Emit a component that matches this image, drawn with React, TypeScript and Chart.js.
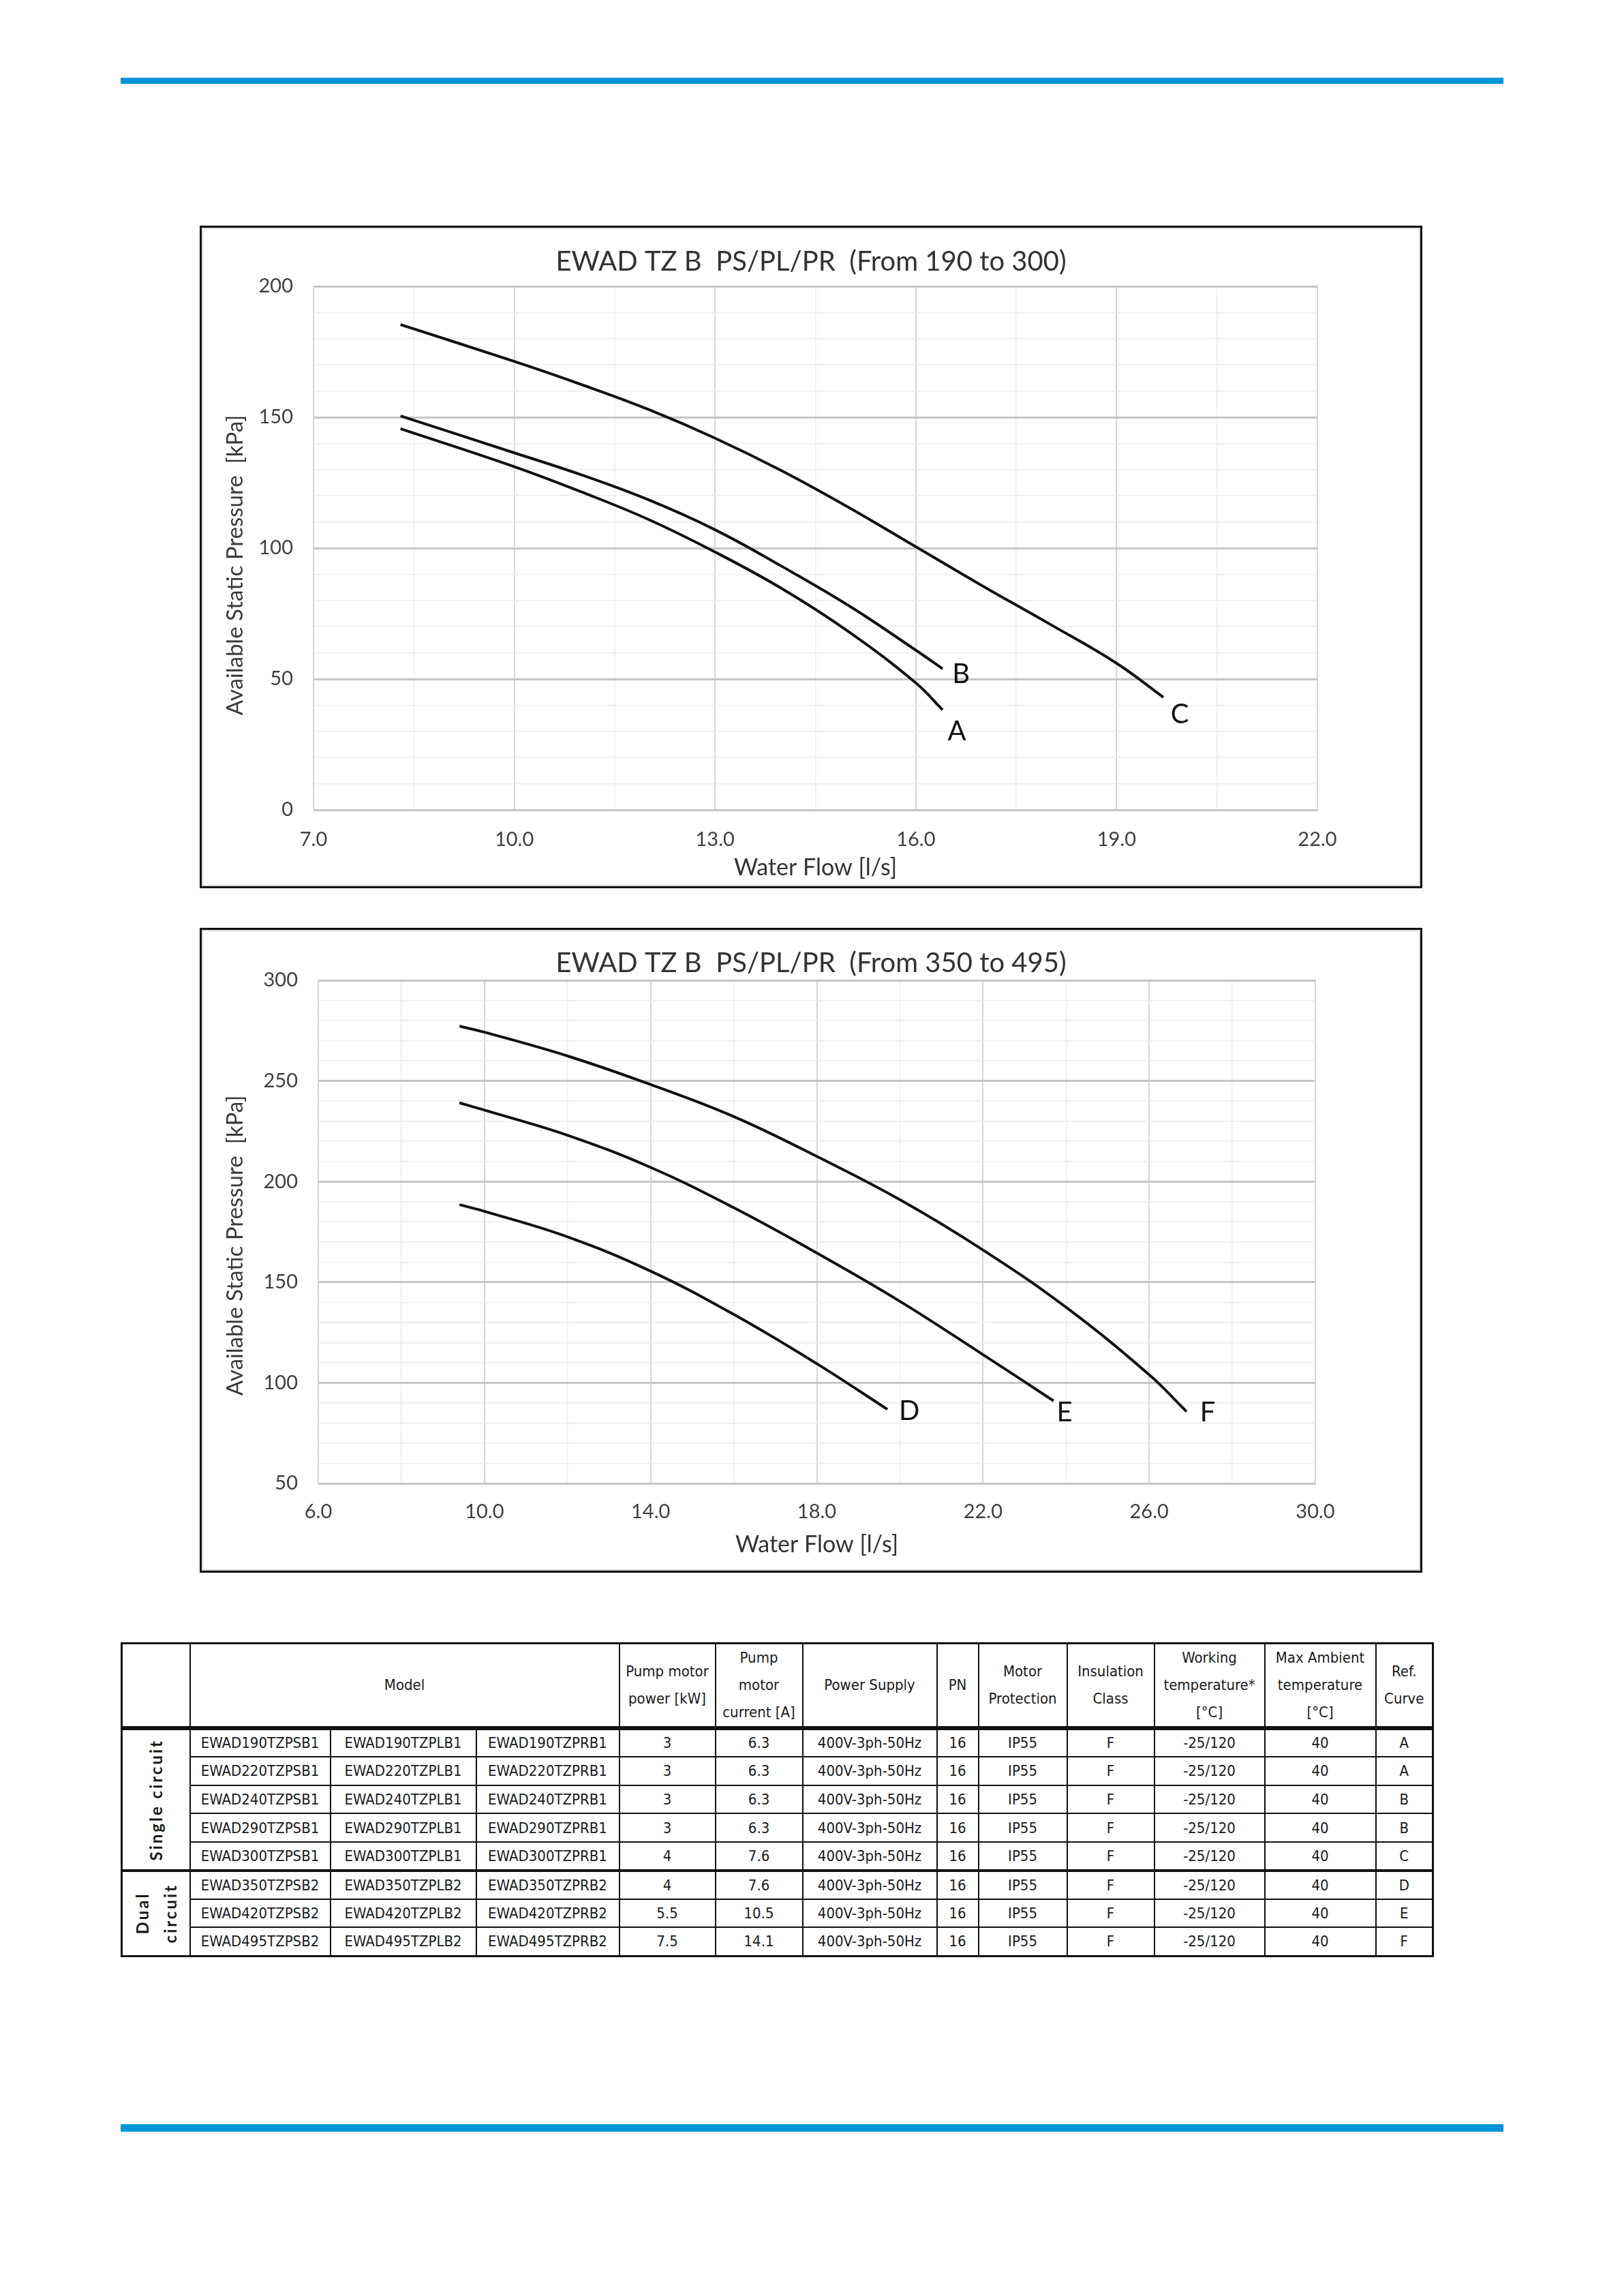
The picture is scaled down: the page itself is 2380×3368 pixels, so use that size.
import React, { useEffect, useRef } from 'react';
import { Chart, registerables } from 'chart.js';

Chart.register(...registerables);
Chart.defaults.font.family = "Lato, 'Liberation Sans', sans-serif";

// ---------- Chart 1 data (EWAD 190..300) ----------
const TITLE_1 = 'EWAD TZ B  PS/PL/PR  (From 190 to 300)';
const flowA = [8.3, 10.0, 11.0, 12.0, 13.0, 14.0, 15.0, 16.0, 16.4];
const pressA = [145.6, 131.1, 121.5, 111.0, 98.5, 84.5, 68.0, 48.5, 38.2];
const flowB = [8.3, 10.0, 11.0, 12.0, 13.0, 14.0, 15.0, 16.0, 16.4];
const pressB = [150.5, 136.4, 128.0, 118.5, 107.0, 93.0, 78.0, 61.0, 53.9];
const flowC = [8.3, 10.0, 11.0, 12.0, 13.0, 14.0, 15.0, 16.0, 17.0, 18.0, 19.0, 19.7];
const pressC = [185.4, 171.3, 162.5, 153.0, 142.0, 129.5, 115.5, 100.5, 85.5, 71.0, 56.0, 43.0];

// ---------- Chart 2 data (EWAD 350..495) ----------
const TITLE_2 = 'EWAD TZ B  PS/PL/PR  (From 350 to 495)';
const flowD = [9.4, 10.0, 12.0, 14.0, 16.0, 18.0, 19.7];
const pressD = [188.5, 185.2, 172.5, 155.5, 134.0, 109.5, 86.8];
const flowE = [9.4, 10.0, 12.0, 14.0, 16.0, 18.0, 20.0, 22.0, 23.7];
const pressE = [239.1, 235.5, 223.0, 207.0, 187.0, 164.5, 140.5, 114.0, 91.0];
const flowF = [9.4, 10.0, 12.0, 14.0, 16.0, 18.0, 20.0, 22.0, 24.0, 26.0, 26.9];
const pressF = [277.2, 274.2, 262.4, 248.2, 232.3, 212.5, 191.0, 166.0, 137.5, 104.0, 85.7];

const X_TITLE = 'Water Flow [l/s]';
const Y_TITLE = 'Available Static Pressure  [kPa]';

// ---------- Table data ----------
const modelsPS = ['EWAD190TZPSB1', 'EWAD220TZPSB1', 'EWAD240TZPSB1', 'EWAD290TZPSB1', 'EWAD300TZPSB1', 'EWAD350TZPSB2', 'EWAD420TZPSB2', 'EWAD495TZPSB2'];
const modelsPL = ['EWAD190TZPLB1', 'EWAD220TZPLB1', 'EWAD240TZPLB1', 'EWAD290TZPLB1', 'EWAD300TZPLB1', 'EWAD350TZPLB2', 'EWAD420TZPLB2', 'EWAD495TZPLB2'];
const modelsPR = ['EWAD190TZPRB1', 'EWAD220TZPRB1', 'EWAD240TZPRB1', 'EWAD290TZPRB1', 'EWAD300TZPRB1', 'EWAD350TZPRB2', 'EWAD420TZPRB2', 'EWAD495TZPRB2'];
const pumpPower = ['3', '3', '3', '3', '4', '4', '5.5', '7.5'];
const pumpCurrent = ['6.3', '6.3', '6.3', '6.3', '7.6', '7.6', '10.5', '14.1'];
const powerSupply = '400V-3ph-50Hz';
const pnValue = '16';
const motorProtection = 'IP55';
const insulationClass = 'F';
const workingTemp = '-25/120';
const maxAmbient = '40';
const refCurve = ['A', 'A', 'B', 'B', 'C', 'D', 'E', 'F'];

type Series = { label: string; flow: number[]; press: number[]; off: [number, number] };
type Spec = {
  title: string;
  series: Series[];
  xMin: number; xMax: number; xStep: number; xMajor: number;
  yMin: number; yMax: number; yStep: number; yMajor: number;
  padTop: number; padRight: number; yWidth: number; xHeight: number;
  titleY: number; xTickPad: number; xTitlePad: number; yTitleX: number; yTitleShift: number;
};

const near = (v: number, origin: number, major: number) => {
  const r = (v - origin) / major;
  return Math.abs(r - Math.round(r)) < 1e-6;
};

const FONT = "Lato, 'Liberation Sans', sans-serif";

const annotate = {
  id: 'annotate',
  afterDatasetsDraw(chart: any, _args: any, opts: any) {
    const ctx = chart.ctx;
    const area = chart.chartArea;
    ctx.save();
    ctx.textAlign = 'center';
    ctx.textBaseline = 'middle';
    ctx.fillStyle = '#333333';
    ctx.font = `40px ${FONT}`;
    ctx.fillText(opts.title, chart.width / 2, opts.titleY);
    // y axis title
    ctx.save();
    ctx.translate(opts.yTitleX, (area.top + area.bottom) / 2 + opts.yTitleShift);
    ctx.rotate(-Math.PI / 2);
    ctx.font = `33px ${FONT}`;
    ctx.fillStyle = '#3a3a3a';
    ctx.fillText(opts.yTitle, 0, 0);
    ctx.restore();
    // curve letters
    ctx.fillStyle = '#111111';
    ctx.font = `40px ${FONT}`;
    chart.data.datasets.forEach((ds: any, i: number) => {
      const meta = chart.getDatasetMeta(i);
      const last = meta.data[meta.data.length - 1];
      const off = opts.offsets[i];
      ctx.fillText(ds.label, last.x + off[0], last.y + off[1]);
    });
    ctx.restore();
  },
};

function CurveChart({ spec }: { spec: Spec }) {
  const ref = useRef<HTMLCanvasElement | null>(null);
  useEffect(() => {
    if (!ref.current) return;
    const chart = new Chart(ref.current, {
      type: 'line',
      data: {
        datasets: spec.series.map((s) => ({
          label: s.label,
          data: s.flow.map((x, i) => ({ x, y: s.press[i] })),
          borderColor: '#111111',
          borderWidth: 4,
          pointRadius: 0,
          fill: false,
          tension: 0.4,
        })),
      },
      options: {
        animation: false,
        responsive: true,
        maintainAspectRatio: false,
        layout: { padding: { top: spec.padTop, right: spec.padRight, left: 0, bottom: 0 } },
        plugins: {
          legend: { display: false },
          tooltip: { enabled: false },
          title: { display: false },
          annotate: {
            title: spec.title,
            titleY: spec.titleY,
            yTitle: Y_TITLE,
            yTitleX: spec.yTitleX,
            yTitleShift: spec.yTitleShift,
            offsets: spec.series.map((s) => s.off),
          },
        } as any,
        scales: {
          x: {
            type: 'linear',
            min: spec.xMin,
            max: spec.xMax,
            afterFit: (s: any) => { s.height = spec.xHeight; },
            ticks: {
              stepSize: spec.xStep,
              autoSkip: false,
              maxRotation: 0,
              padding: spec.xTickPad,
              color: '#404040',
              font: { size: 29 },
              callback: (v: any) => (near(Number(v), spec.xMin, spec.xMajor) ? Number(v).toFixed(1) : ''),
            },
            grid: {
              drawTicks: false,
              color: (c: any) => (near(c.tick.value, spec.xMin, spec.xMajor) ? '#d6d6d6' : '#eeeeee'),
              lineWidth: (c: any) => (near(c.tick.value, spec.xMin, spec.xMajor) ? 2 : 1.5),
            },
            border: { display: true, color: '#c6c6c6', width: 3 },
            title: { display: true, text: X_TITLE, color: '#333333', font: { size: 34 }, padding: { top: 0, bottom: spec.xTitlePad } },
          },
          y: {
            type: 'linear',
            min: spec.yMin,
            max: spec.yMax,
            afterFit: (s: any) => { s.width = spec.yWidth; },
            ticks: {
              stepSize: spec.yStep,
              autoSkip: false,
              padding: 30,
              color: '#404040',
              font: { size: 29 },
              callback: (v: any) => (near(Number(v), spec.yMin, spec.yMajor) ? String(v) : ''),
            },
            grid: {
              drawTicks: false,
              color: (c: any) => (near(c.tick.value, spec.yMin, spec.yMajor) ? '#c6c6c6' : '#ececec'),
              lineWidth: (c: any) => (near(c.tick.value, spec.yMin, spec.yMajor) ? 3 : 1.5),
            },
            border: { display: true, color: '#d6d6d6', width: 2 },
            title: { display: false },
          },
        },
      } as any,
      plugins: [annotate as any],
    });
    return () => chart.destroy();
  }, [spec]);
  return <canvas ref={ref} />;
}

const spec1: Spec = {
  title: TITLE_1,
  series: [
    { label: 'A', flow: flowA, press: pressA, off: [21, 32] },
    { label: 'B', flow: flowB, press: pressB, off: [27, 8] },
    { label: 'C', flow: flowC, press: pressC, off: [24, 25] },
  ],
  xMin: 7, xMax: 22, xStep: 1.5, xMajor: 3,
  yMin: 0, yMax: 200, yStep: 10, yMajor: 50,
  padTop: 86, padRight: 151, yWidth: 164, xHeight: 112,
  titleY: 50, xTickPad: 26, xTitlePad: 7, yTitleX: 49, yTitleShift: 25,
};

const spec2: Spec = {
  title: TITLE_2,
  series: [
    { label: 'D', flow: flowD, press: pressD, off: [32, 3] },
    { label: 'E', flow: flowE, press: pressE, off: [16, 17] },
    { label: 'F', flow: flowF, press: pressF, off: [31, 1] },
  ],
  xMin: 6, xMax: 30, xStep: 2, xMajor: 4,
  yMin: 50, yMax: 300, yStep: 10, yMajor: 50,
  padTop: 74, padRight: 154, yWidth: 171, xHeight: 128,
  titleY: 49, xTickPad: 24, xTitlePad: 18, yTitleX: 49, yTitleShift: 20,
};

const NARROW = "'Liberation Sans Narrow', 'DejaVu Sans Condensed', 'Roboto Condensed', Lato, sans-serif";
const colW = [100, 206, 214, 210, 141, 128, 197, 61, 130, 128, 162, 163, 84];
const LINE = '2px solid #111';

const cellBase: React.CSSProperties = {
  border: LINE,
  padding: 0,
  textAlign: 'center',
  verticalAlign: 'middle',
  overflow: 'hidden',
  whiteSpace: 'nowrap',
};

function SpecTable() {
  const head: React.CSSProperties = { ...cellBase, fontWeight: 400, fontSize: 22, lineHeight: '40px', borderBottom: '6px solid #111' };
  const vert: React.CSSProperties = {
    writingMode: 'vertical-rl',
    transform: 'rotate(180deg)',
    margin: '0 auto',
    fontFamily: 'Lato, sans-serif',
    fontWeight: 700,
    fontSize: 24,
    letterSpacing: 3,
    lineHeight: '41px',
    textAlign: 'center',
  };
  return (
    <table
      style={{
        position: 'absolute', left: 177, top: 2409, width: 1924,
        borderCollapse: 'collapse', tableLayout: 'fixed', border: '3px solid #111',
        fontFamily: NARROW, color: '#1a1a1a', fontSize: 22, background: '#fff',
      }}
    >
      <colgroup>
        {colW.map((w, i) => <col key={i} style={{ width: w }} />)}
      </colgroup>
      <tbody>
        <tr style={{ height: 124 }}>
          <th style={head}></th>
          <th style={head} colSpan={3}>Model</th>
          <th style={head}>Pump motor<br />power [kW]</th>
          <th style={head}>Pump<br />motor<br />current [A]</th>
          <th style={head}>Power Supply</th>
          <th style={head}>PN</th>
          <th style={head}>Motor<br />Protection</th>
          <th style={head}>Insulation<br />Class</th>
          <th style={head}>Working<br />temperature*<br />[°C]</th>
          <th style={head}>Max Ambient<br />temperature<br />[°C]</th>
          <th style={head}>Ref.<br />Curve</th>
        </tr>
        {modelsPS.map((m, i) => {
          const td: React.CSSProperties = { ...cellBase, borderBottom: i === 4 ? '4px solid #111' : LINE };
          return (
            <tr key={m} style={{ height: 41.75 }}>
              {i === 0 && (
                <td style={{ ...cellBase, borderBottom: '4px solid #111' }} rowSpan={5}>
                  <div style={vert}>Single circuit</div>
                </td>
              )}
              {i === 5 && (
                <td style={cellBase} rowSpan={3}>
                  <div style={vert}>Dual<br />circuit</div>
                </td>
              )}
              <td style={td}>{m}</td>
              <td style={td}>{modelsPL[i]}</td>
              <td style={td}>{modelsPR[i]}</td>
              <td style={td}>{pumpPower[i]}</td>
              <td style={td}>{pumpCurrent[i]}</td>
              <td style={td}>{powerSupply}</td>
              <td style={td}>{pnValue}</td>
              <td style={td}>{motorProtection}</td>
              <td style={td}>{insulationClass}</td>
              <td style={td}>{workingTemp}</td>
              <td style={td}>{maxAmbient}</td>
              <td style={td}>{refCurve[i]}</td>
            </tr>
          );
        })}
      </tbody>
    </table>
  );
}

function ChartBox({ top, height, spec }: { top: number; height: number; spec: Spec }) {
  return (
    <div
      style={{
        position: 'absolute', left: 293, top, width: 1794, height,
        border: '3px solid #111', boxSizing: 'border-box', background: '#fff',
        boxShadow: 'inset 0 0 0 2px #d8d8d8',
      }}
    >
      <div style={{ position: 'relative', width: 1788, height: height - 6 }}>
        <CurveChart spec={spec} />
      </div>
    </div>
  );
}

export default function App() {
  return (
    <div style={{ position: 'absolute', left: 0, top: 0, width: 2380, height: 3368, background: '#fff', fontFamily: 'Lato, sans-serif' }}>
      <div style={{ position: 'absolute', left: 177, top: 114, width: 2029, height: 9, background: '#0095da' }} />
      <ChartBox top={331} height={972} spec={spec1} />
      <ChartBox top={1361} height={946} spec={spec2} />
      <SpecTable />
      <div style={{ position: 'absolute', left: 177, top: 3116, width: 2029, height: 11, background: '#0095da' }} />
    </div>
  );
}
